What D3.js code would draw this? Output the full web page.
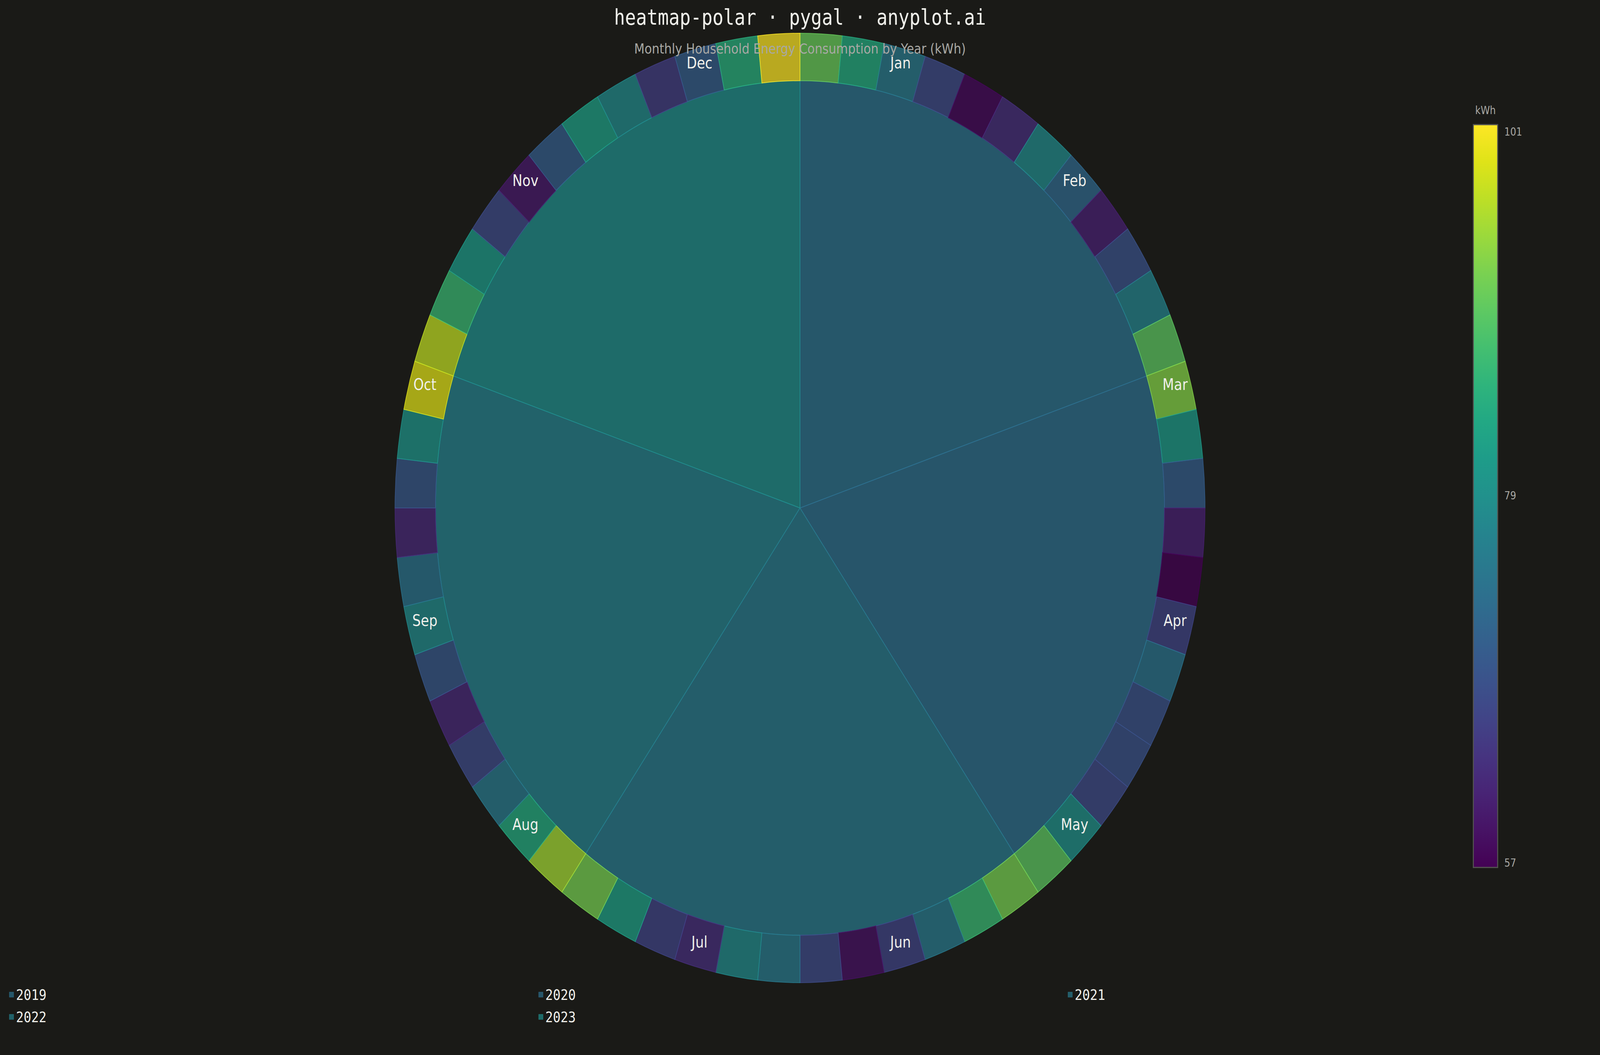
<!DOCTYPE html>
<html>
<head>
<meta charset="utf-8">
<script src="https://cdn.jsdelivr.net/npm/d3@7"></script>
<style>
  html, body { margin: 0; padding: 0; background: #1a1a17; overflow: hidden; }
  svg { display: block; }
</style>
</head>
<body>
<div id="chart"></div>
<script>
// Monthly household energy consumption (kWh), one row per year
const years = ["2019", "2020", "2021", "2022", "2023"];
const months = ["Jan", "Feb", "Mar", "Apr", "May", "Jun",
    "Jul", "Aug", "Sep", "Oct", "Nov", "Dec"];

const values2019 = [91, 84, 75, 67, 58, 63, 78, 72, 61, 68, 77, 90];
const values2020 = [93, 81, 70, 61, 57, 66, 74, 68, 68, 67, 79, 90];
const values2021 = [92, 87, 75, 66, 59, 67, 75, 78, 63, 66, 82, 92];
const values2022 = [95, 84, 75, 67, 62, 69, 78, 74, 62, 69, 80, 99];
const values2023 = [97, 87, 81, 67, 60, 70, 82, 78, 65, 70, 85, 101];

const colorTicks = [57, 79, 101];

const seriesValues = [values2019, values2020, values2021, values2022, values2023];

// drawing is laid out on a 4800x2700 canvas and fitted to the window
const W = 4800, H = 2700;
const cx = 2400, cy = 1300;
const R = 1215;
const bg = "#1a1a17";

const svg = d3.select("#chart").append("svg")
    .attr("width", window.innerWidth)
    .attr("height", window.innerHeight)
    .attr("viewBox", `0 0 ${W} ${H}`)
    .attr("preserveAspectRatio", "none");

svg.append("rect").attr("width", W).attr("height", H).attr("fill", bg);

const color = d3.scaleSequential(d3.interpolateViridis).domain([57, 101]);

// flatten to cells, year-major like pygal does with one serie per year
const cells = [];
years.forEach((y, i) => {
    seriesValues[i].forEach((v, m) => cells.push({ year: y, month: months[m], value: v }));
});

const g = svg.append("g").attr("transform", `translate(${cx},${cy})`);

// big slices: one per year, coloured by the year's mean
const yearPie = d3.pie().sort(null).value(d => d.values.length);
const yearData = years.map((y, i) => ({ year: y, values: seriesValues[i], mean: d3.mean(seriesValues[i]) }));
const bigArc = d3.arc().innerRadius(0).outerRadius(R * 0.9);

g.selectAll(".big-slice")
    .data(yearPie(yearData))
    .enter().append("path")
    .attr("class", "big-slice")
    .attr("d", bigArc)
    .attr("fill", d => color(d.data.mean))
    .attr("fill-opacity", 0.7)
    .attr("stroke", d => color(d.data.mean))
    .attr("stroke-opacity", 0.8)
    .attr("stroke-width", 2);

// outer ring: one cell per month value
const cellPie = d3.pie().sort(null).value(() => 1);
const cellArc = d3.arc().innerRadius(R * 0.9).outerRadius(R);

g.selectAll(".cell")
    .data(cellPie(cells))
    .enter().append("path")
    .attr("class", "cell")
    .attr("d", cellArc)
    .attr("fill", d => color(d.data.value))
    .attr("fill-opacity", 0.7)
    .attr("stroke", d => color(d.data.value))
    .attr("stroke-opacity", 0.8)
    .attr("stroke-width", 2);

// month labels around the ring
const monthAngle = d3.scaleBand().domain(months).range([0, 2 * Math.PI]);
const labelR = 1165;

g.selectAll(".month-label")
    .data(months)
    .enter().append("text")
    .attr("class", "month-label")
    .attr("x", d => labelR * Math.sin(monthAngle(d) + monthAngle.bandwidth() / 2))
    .attr("y", d => -labelR * Math.cos(monthAngle(d) + monthAngle.bandwidth() / 2))
    .attr("text-anchor", "middle")
    .attr("font-family", "DejaVu Sans")
    .attr("font-size", 40)
    .attr("fill", "#f0f0eb")
    .text(d => d);

// title + subtitle
svg.append("text")
    .attr("x", cx)
    .attr("y", 63)
    .attr("text-anchor", "middle")
    .attr("font-family", "DejaVu Sans Mono")
    .attr("font-size", 54.5)
    .attr("fill", "#f0f0eb")
    .text("heatmap-polar · pygal · anyplot.ai");

svg.append("text")
    .attr("x", cx)
    .attr("y", 137)
    .attr("text-anchor", "middle")
    .attr("font-family", "DejaVu Sans")
    .attr("font-size", 36)
    .attr("fill", "#a8a8a4")
    .text("Monthly Household Energy Consumption by Year (kWh)");

// colour bar
const barX = 4420, barW = 73, barTop = 319, barBottom = 2220;
const defs = svg.append("defs");
const grad = defs.append("linearGradient")
    .attr("id", "viridis-grad")
    .attr("x1", 0).attr("y1", 1).attr("x2", 0).attr("y2", 0);
d3.range(0, 1.0001, 0.05).forEach(t => {
    grad.append("stop")
        .attr("offset", t)
        .attr("stop-color", d3.interpolateViridis(t));
});

svg.append("rect")
    .attr("x", barX).attr("y", barTop)
    .attr("width", barW).attr("height", barBottom - barTop)
    .attr("fill", "url(#viridis-grad)")
    .attr("stroke", "#555552")
    .attr("stroke-width", 3);

svg.append("text")
    .attr("x", barX + barW / 2)
    .attr("y", 292)
    .attr("text-anchor", "middle")
    .attr("font-family", "DejaVu Sans")
    .attr("font-size", 28)
    .attr("fill", "#a8a8a4")
    .text("kWh");

const barY = d3.scaleLinear().domain([57, 101]).range([barBottom, barTop]);
const tickDy = v => v === 101 ? 28 : (v === 57 ? -2 : 9);

svg.selectAll(".bar-tick")
    .data(colorTicks)
    .enter().append("text")
    .attr("class", "bar-tick")
    .attr("x", barX + barW + 20)
    .attr("y", d => barY(d) + tickDy(d))
    .attr("font-family", "DejaVu Sans")
    .attr("font-size", 28)
    .attr("fill", "#a8a8a4")
    .text(d => d);

// legend, three columns at the bottom
const legendCol = d3.scalePoint().domain([0, 1, 2]).range([28, 3204]);
const legendRow = d3.scalePoint().domain([0, 1]).range([2546, 2603]);

const legend = svg.selectAll(".legend-item")
    .data(yearData)
    .enter().append("g")
    .attr("class", "legend-item")
    .attr("transform", (d, i) => `translate(${legendCol(i % 3)},${legendRow(Math.floor(i / 3))})`);

legend.append("rect")
    .attr("x", 0).attr("y", -7)
    .attr("width", 13).attr("height", 13)
    .attr("fill", d => color(d.mean))
    .attr("fill-opacity", 0.7)
    .attr("stroke", d => color(d.mean))
    .attr("stroke-opacity", 0.8);

legend.append("text")
    .attr("x", 20)
    .attr("y", 13)
    .attr("font-family", "DejaVu Sans Mono")
    .attr("font-size", 38)
    .attr("fill", "#f0f0eb")
    .text(d => d.year);
</script>
</body>
</html>
